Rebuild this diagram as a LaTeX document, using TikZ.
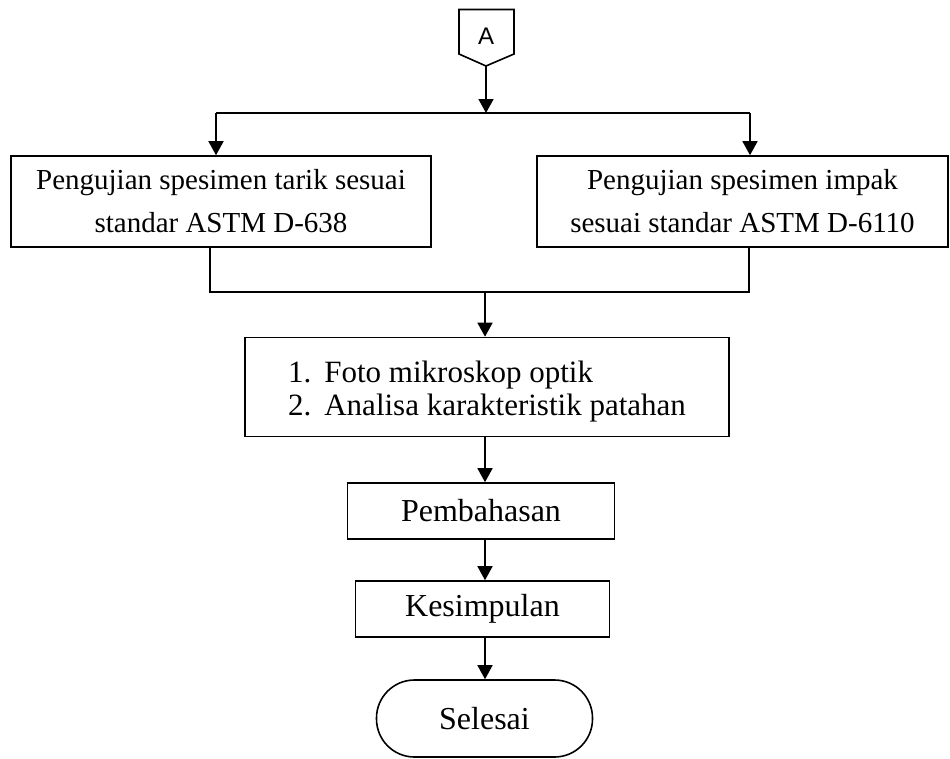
\documentclass[tikz,border=0pt]{standalone}
\usepackage{fontspec}
\setmainfont{Liberation Serif}
\newfontfamily\conFont{Liberation Sans}
\usetikzlibrary{positioning,arrows.meta,calc}
\tikzset{
  line/.style={draw=black,line width=1.6pt},
  blk/.style={line,rectangle,align=center,inner sep=0pt,
              font=\fontsize{32}{43}\selectfont},
  test/.style={blk,font=\fontsize{29}{43}\selectfont},
  term/.style={blk,rounded corners=38pt},
  arr/.style={line,-{Triangle[length=14pt,width=15pt]}},
}

\begin{document}
\begin{tikzpicture}[x=1pt,y={(0pt,-1pt)}]
  \useasboundingbox (0,0) rectangle (950,758);

  % ===== off-page connector =====
  \draw[line,line join=miter] (459,9.5) -- (514,9.5) -- (514,54) -- (486,66)
        -- (459,54) -- cycle;
  \node[font=\conFont\fontsize{24}{24}\selectfont] (conA) at (486,36) {A};
  \coordinate (conTip) at (486,66);
  \coordinate (split) at (486,113);
  \coordinate (kL) at (216,113);
  \coordinate (kR) at (750,113);

  % ===== tests =====
  \node[test,minimum width=420pt,minimum height=91pt] (tarik) at (221,201.5)
       {Pengujian spesimen tarik sesuai\\standar ASTM D-638};
  \node[test,minimum width=411pt,minimum height=91pt] (impak) at (742.5,201.5)
       {Pengujian spesimen impak\\sesuai standar ASTM D-6110};
  \draw[arr] (conTip) -- (split);
  \draw[line] (kL) -- (kR);
  \draw[arr] (kL) -- (kL |- tarik.north);
  \draw[arr] (kR) -- (kR |- impak.north);

  % ===== join =====
  \coordinate (jL) at (210,292);
  \coordinate (jR) at (749,292);
  \coordinate (jM) at (485,292);
  \draw[line] (jL |- tarik.south) -- (jL) -- (jR) -- (jR |- impak.south);

  % ===== analysis and end =====
  \node[blk,minimum width=484pt,minimum height=99pt,
        font=\fontsize{31}{33}\selectfont] (foto) at (487,387)
       {\raisebox{-5pt}[\height][\depth]{\begin{tabular}{@{}l@{\hspace{13pt}}l@{}}
          1. & Foto mikroskop optik\\
          2. & Analisa karakteristik patahan
        \end{tabular}}};
  \node[blk,minimum width=267pt,minimum height=56pt] (bahas) at (481,511)
       {Pembahasan};
  \node[blk,minimum width=254pt,minimum height=56pt] (simpul) at (482.5,609)
       {Kesimpulan};
  \node[term,minimum width=216pt,minimum height=77pt] (selesai) at (484.5,718.5)
       {Selesai};
  \draw[arr] (jM) -- (jM |- foto.north);
  \draw[arr] (foto.south -| jM) -- (bahas.north -| jM);
  \draw[arr] (bahas.south -| jM) -- (simpul.north -| jM);
  \draw[arr] (simpul.south -| jM) -- (selesai.north -| jM);
\end{tikzpicture}
\end{document}
